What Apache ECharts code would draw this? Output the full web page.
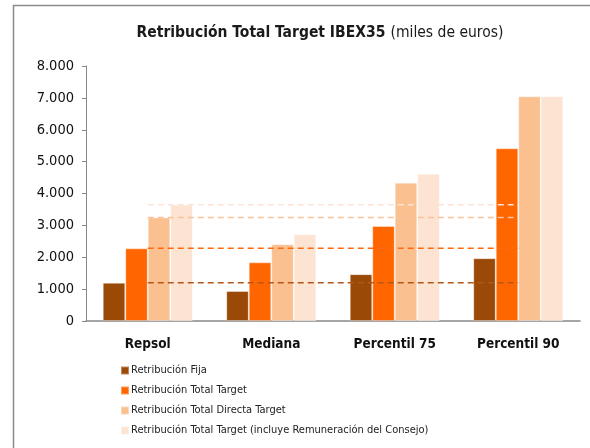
<!DOCTYPE html>
<html lang="es">
<head>
    <meta charset="UTF-8">
    <title>Retribución Total Target IBEX35</title>
    <script src="https://cdn.jsdelivr.net/npm/echarts@6/dist/echarts.min.js"></script>
    <style>
        html, body { margin: 0; padding: 0; background: #fff; }
    </style>
</head>
<body>
    <div id="main" style="width:590px;height:448px;"></div>

    <script>
        const categories = ['Repsol', 'Mediana', 'Percentil 75', 'Percentil 90'];
        const seriesNames = [
            'Retribución Fija',
            'Retribución Total Target',
            'Retribución Total Directa Target',
            'Retribución Total Target (incluye Remuneración del Consejo)'
        ];
        const fija = [1200, 940, 1470, 1970];
        const totalTarget = [2280, 1840, 2980, 5420];
        const directaTarget = [3250, 2410, 4340, 7050];
        const consejo = [3650, 2720, 4620, 7050];
        const yTicks = [0, 1000, 2000, 3000, 4000, 5000, 6000, 7000, 8000];

        const colors = ['#9A4906', '#FF6600', '#FAC090', '#FDE3D1'];
        const lineColors = ['#B5561A', '#FF6A10', '#F8C39A', '#FCE3D3'];
        const font = '"Liberation Sans Narrow", "DejaVu Sans Condensed", "Arial Narrow", sans-serif';

        const values = [fija, totalTarget, directaTarget, consejo];

        // barras
        const barSeries = values.map(function (arr, i) {
            return {
                name: seriesNames[i],
                type: 'bar',
                data: arr,
                barWidth: 22.5,
                barGap: '0%',
                itemStyle: {
                    color: colors[i],
                    borderColor: 'rgba(255,255,255,0.35)',
                    borderWidth: 1
                },
                z: 2
            };
        });

        // líneas discontinuas con los valores de Repsol
        const refSeries = values.map(function (arr, i) {
            return {
                name: 'ref' + i,
                type: 'line',
                xAxisIndex: 1,
                data: [[0.5, arr[0]], [3.5, arr[0]]],
                symbol: 'none',
                silent: true,
                lineStyle: { color: lineColors[i], width: 1.5, type: [6, 4] },
                z: 5
            };
        });

        const option = {
            backgroundColor: '#fff',
            animation: false,
            textStyle: { fontFamily: font },
            title: {
                text: '{b|Retribución Total Target IBEX35} {n|(miles de euros)}',
                left: 315,
                textAlign: 'center',
                top: 19,
                textStyle: {
                    fontWeight: 'normal',
                    rich: {
                        b: { fontFamily: font, fontSize: 15.5, fontWeight: 'bold', color: '#1a1a1a' },
                        n: { fontFamily: font, fontSize: 15.5, fontWeight: 'normal', color: '#1a1a1a' }
                    }
                }
            },
            legend: {
                orient: 'vertical',
                left: 115,
                top: 360,
                itemWidth: 8,
                itemHeight: 8,
                itemGap: 9,
                icon: 'rect',
                data: seriesNames,
                textStyle: { fontFamily: font, fontSize: 11, color: '#222', padding: [0, 0, 0, -3] }
            },
            grid: { left: 86, right: 10, top: 66, bottom: 127, containLabel: false },
            xAxis: [{
                type: 'category',
                data: categories,
                axisLine: { lineStyle: { color: '#888', width: 1.5 } },
                axisTick: { length: 5, lineStyle: { color: '#999' } },
                axisLabel: { interval: 0, fontFamily: font, fontSize: 13.5, fontWeight: 'bold', color: '#111', margin: 16 }
            }, {
                type: 'value',
                min: 0,
                max: 4,
                show: false
            }],
            yAxis: {
                type: 'value',
                min: yTicks[0],
                max: yTicks[yTicks.length - 1],
                interval: 1000,
                splitLine: { show: false },
                axisLine: { show: true, lineStyle: { color: '#888' } },
                axisTick: { show: true, length: 4, lineStyle: { color: '#888' } },
                axisLabel: {
                    fontFamily: font,
                    fontSize: 14.5,
                    color: '#111',
                    margin: 12,
                    formatter: function (v) {
                        return v.toString().replace(/\B(?=(\d{3})+(?!\d))/g, '.');
                    }
                }
            },
            graphic: [{
                type: 'polyline',
                shape: { points: [[13.5, 448], [13.5, 5.5], [590, 5.5]] },
                style: { stroke: '#8c8c8c', lineWidth: 1.5, fill: null },
                silent: true
            }],
            series: barSeries.concat(refSeries)
        };

        var myChart = echarts.init(document.getElementById('main'));
        myChart.setOption(option);
    </script>
</body>
</html>
